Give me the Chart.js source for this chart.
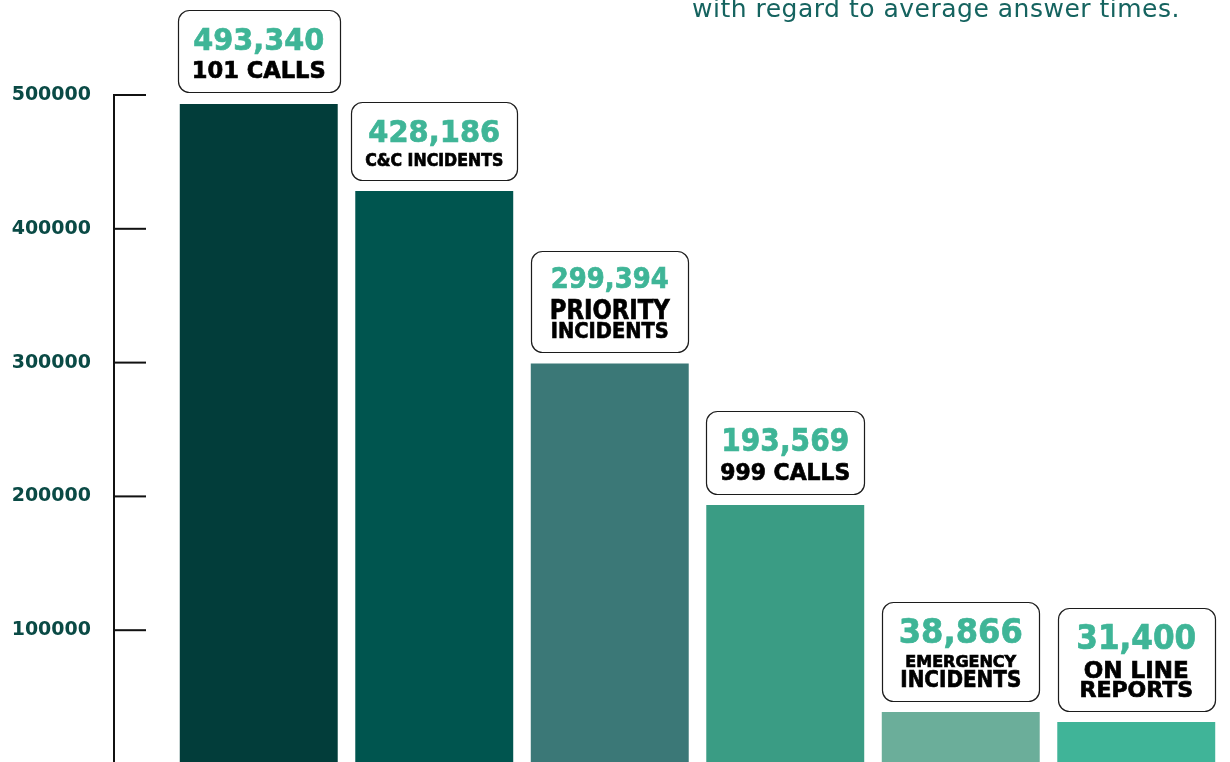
<!DOCTYPE html>
<html>
<head>
<meta charset="utf-8">
<script src="https://cdn.jsdelivr.net/npm/chart.js@4.4.1/dist/chart.umd.min.js"></script>
<style>
  html, body { margin: 0; padding: 0; background: #fff; overflow: hidden; }
  #wrap { position: relative; width: 1230px; height: 764px; }
  #note {
    position: absolute; left: 692px; top: -3px;
    font-family: "DejaVu Sans", sans-serif; font-size: 25px; line-height: 24px;
    letter-spacing: 0.5px; color: #15635f; white-space: nowrap;
  }
</style>
</head>
<body>
<div id="wrap">
  <canvas id="callsChart" width="1230" height="764"></canvas>
  <div id="note">with regard to average answer times.</div>
</div>
<script>
const categories = ['101 CALLS', 'C&C INCIDENTS', 'PRIORITY INCIDENTS', '999 CALLS', 'EMERGENCY INCIDENTS', 'ON LINE REPORTS'];
const callCounts = [493340, 428186, 299394, 193569, 38866, 31400];
const labelLines = [['101 CALLS'], ['C&C INCIDENTS'], ['PRIORITY', 'INCIDENTS'], ['999 CALLS'], ['EMERGENCY', 'INCIDENTS'], ['ON LINE', 'REPORTS']];
const yTicks = [100000, 200000, 300000, 400000, 500000];

const barColors = ['#023d3a', '#00554f', '#3b7877', '#3a9c84', '#6bae9a', '#40b498'];

// font sizes / max widths for the boxed labels
const numberFont = [31, 31, 28, 32, 33, 33];
const numberWidth = [131, 132, 118, 128, 124, 120];
const lineFont = [[23], [17], [26, 22], [23], [16, 23], [23, 22]];
const lineWidth = [[134], [138], [120, 118], [130], [121, 121], [118, 116]];

const boxLabels = {
  id: 'boxLabels',
  afterDatasetsDraw(chart) {
    const ctx = chart.ctx;
    const bars = chart.getDatasetMeta(0).data;
    bars.forEach((bar, i) => {
      const rows = [{ text: callCounts[i].toLocaleString('en-US'), size: numberFont[i], max: numberWidth[i], color: '#3fb597' }];
      labelLines[i].forEach((t, j) => rows.push({ text: t, size: lineFont[i][j], max: lineWidth[i][j], color: '#000' }));
      const gap = j => (j === 0 ? 0 : j === 1 ? 12 : 3);
      let h = 17 + 14;
      rows.forEach((r, j) => { h += r.size * 0.73 + gap(j); });
      const textW = Math.max(...rows.map(r => r.max));
      const w = Math.max(bar.width - 1, textW + 28);
      const left = Math.round(bar.x - w / 2);
      const top = Math.round(bar.y - 11 - h);

      ctx.save();
      ctx.beginPath();
      ctx.roundRect(left + 0.5, top + 0.5, Math.round(w), Math.round(h), 11);
      ctx.fillStyle = '#fff';
      ctx.fill();
      ctx.strokeStyle = '#1c1c1c';
      ctx.lineWidth = 1.2;
      ctx.stroke();
      ctx.textAlign = 'center';
      ctx.textBaseline = 'alphabetic';
      ctx.lineWidth = 0.7;
      let y = top + 17;
      rows.forEach((r, j) => {
        y += gap(j) + r.size * 0.73;
        ctx.font = `bold ${r.size}px "DejaVu Sans"`;
        ctx.fillStyle = r.color;
        ctx.strokeStyle = r.color;
        ctx.fillText(r.text, bar.x, y, r.max);
        ctx.strokeText(r.text, bar.x, y, r.max);
      });
      ctx.restore();
    });
  }
};

const axisLine = {
  id: 'axisLine',
  afterDraw(chart) {
    const ctx = chart.ctx;
    const ys = chart.scales.y;
    const ax = chart.chartArea.left - 58;
    const topY = ys.getPixelForValue(yTicks[yTicks.length - 1]);
    ctx.save();
    ctx.fillStyle = '#111';
    ctx.fillRect(ax, topY - 1, 2, chart.height - topY + 1);
    yTicks.forEach(v => {
      const py = ys.getPixelForValue(v);
      ctx.fillRect(ax, py - 1, 33, 2);
    });
    ctx.restore();
  }
};

new Chart('callsChart', {
  type: 'bar',
  data: {
    labels: categories,
    datasets: [{
      data: callCounts,
      backgroundColor: barColors,
      borderWidth: 0,
      categoryPercentage: 1,
      barPercentage: 0.9
    }]
  },
  options: {
    responsive: false,
    animation: false,
    layout: { padding: { top: 95, right: 6, bottom: 0, left: 0 } },
    plugins: {
      legend: { display: false },
      tooltip: { enabled: false }
    },
    scales: {
      x: { display: false },
      y: {
        min: 0,
        max: 500000,
        afterBuildTicks: s => { s.ticks = yTicks.map(v => ({ value: v })); },
        afterFit: s => {
          s.width = 171;
          s.paddingTop = 0;
          s.paddingBottom = 0;
        },
        grid: { display: false, drawTicks: false },
        border: { display: false },
        ticks: {
          padding: 80,
          color: '#0a4a45',
          font: { family: 'DejaVu Sans', weight: 'bold', size: 19 },
          callback: v => String(v)
        }
      }
    }
  },
  plugins: [boxLabels, axisLine]
});
</script>
</body>
</html>
